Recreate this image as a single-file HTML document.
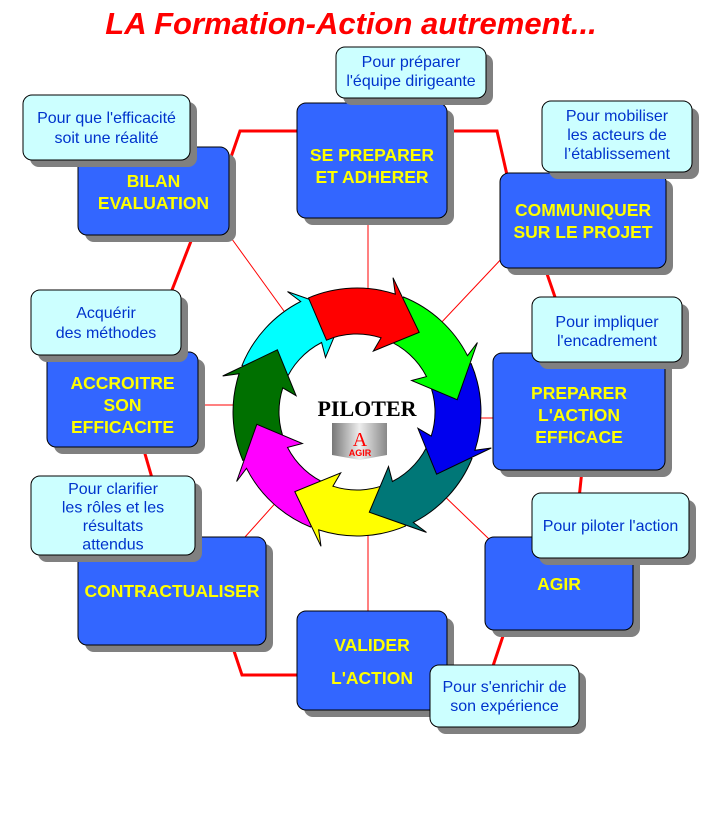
<!DOCTYPE html>
<html><head><meta charset="utf-8"><style>
body{margin:0;background:#fff;}
svg{display:block}
.b{font-family:"Liberation Sans",sans-serif;font-weight:bold;fill:#ffff00;font-size:17.5px;text-anchor:middle}
.c{font-family:"Liberation Sans",sans-serif;fill:#0033cc;font-size:16px;text-anchor:middle}
</style></head><body>
<svg id="s" width="705" height="815" viewBox="0 0 705 815" xmlns="http://www.w3.org/2000/svg">
<rect width="705" height="815" fill="#fff"/>
<text x="351" y="34" font-family="Liberation Sans,sans-serif" font-size="31" font-weight="bold" font-style="italic" fill="#ff0000" text-anchor="middle">LA Formation-Action autrement...</text>
<g stroke="#ff0000" stroke-width="1">
<line x1="368" y1="412" x2="368" y2="218"/><line x1="368" y1="412" x2="368" y2="611"/>
<line x1="357" y1="405" x2="198" y2="405"/><line x1="357" y1="418" x2="493" y2="418"/>
<line x1="357" y1="412" x2="229" y2="235"/><line x1="357" y1="412" x2="505" y2="255"/>
<line x1="357" y1="412" x2="245" y2="537"/><line x1="357" y1="412" x2="490" y2="540"/>
</g>
<circle cx="357" cy="412" r="124" fill="#fff"/>
<g stroke="#ff0000" stroke-width="3" fill="none">
<polyline points="230,160 240,131 497,131 507,175"/>
<polyline points="193,236 172,290"/>
<polyline points="143,447 152,478"/>
<polyline points="232,645 242,675 300,675"/>
<polyline points="445,675 490,675 505,630"/>
<polyline points="575,537 582,470"/>
<polyline points="555,297 545,268"/>
</g>
<g id="arrows" stroke="#000" stroke-width="1"></g>
<text x="367" y="416" font-family="Liberation Serif,serif" font-size="22" font-weight="bold" fill="#000" text-anchor="middle">PILOTER</text>
<defs><linearGradient id="g" x1="0" x2="1"><stop offset="0" stop-color="#777"/><stop offset=".5" stop-color="#eee"/><stop offset="1" stop-color="#888"/></linearGradient></defs>
<path d="M332,423 L387,423 L387,455 L360,460 L332,455Z" fill="url(#g)"/>
<text x="360" y="446" font-family="Liberation Serif,serif" font-size="20" fill="#ff0000" text-anchor="middle">A</text>
<text x="360" y="456" font-family="Liberation Sans,sans-serif" font-size="9" font-weight="bold" fill="#ff0000" text-anchor="middle">AGIR</text>
<g id="boxes"></g>
</svg>
<script>
var cx=357,cy=412,ri=78,ro=124;
function P(r,a){a=a*Math.PI/180;return (cx+r*Math.cos(a)).toFixed(1)+","+(cy+r*Math.sin(a)).toFixed(1);}
var cols=["#ff0000","#00ff00","#0000ee","#007777","#ffff00","#ff00ff","#007000","#00ffff"];
var h="";
var order=[7,6,5,4,3,2,1,0];
for(var j=0;j<8;j++){
 var k=order[j];
 var tip=-52+45*k, s=tip-61, e=tip-20;
 var d="M"+P(ro,s)+" A"+ro+","+ro+" 0 0 1 "+P(ro,e)+" L"+P(ro+15,e-3)+" L"+P((ri+ro)/2,tip)+" L"+P(ri-15,e-3)+" L"+P(ri,e)+" A"+ri+","+ri+" 0 0 0 "+P(ri,s)+"Z";
 h+='<path d="'+d+'" fill="'+cols[k]+'"/>';
}
document.getElementById("arrows").innerHTML=h;
function box(x,y,w,hh,lines,cls,fill,ly,lh){
 var r='<rect x="'+(x+7)+'" y="'+(y+7)+'" width="'+w+'" height="'+hh+'" rx="9" fill="#808080"/>'+
 '<rect x="'+x+'" y="'+y+'" width="'+w+'" height="'+hh+'" rx="9" fill="'+fill+'" stroke="#000" stroke-width="1"/>';
 for(var i=0;i<lines.length;i++) r+='<text class="'+cls+'" x="'+(x+w/2)+'" y="'+(ly+i*lh)+'">'+lines[i]+'</text>';
 return r;
}
var B="#3366ff",C="#ccffff",o="";
o+=box(297,103,150,115,["SE PREPARER","ET ADHERER"],"b",B,161,22);
o+=box(78,147,151,88,["BILAN","EVALUATION"],"b",B,187,22);
o+=box(500,173,166,95,["COMMUNIQUER","SUR LE PROJET"],"b",B,216,22);
o+=box(47,352,151,95,["ACCROITRE","SON","EFFICACITE"],"b",B,389,22);
o+=box(493,353,172,117,["PREPARER","L'ACTION","EFFICACE"],"b",B,399,22);
o+=box(78,537,188,108,["CONTRACTUALISER"],"b",B,597,22);
o+=box(485,537,148,93,["AGIR"],"b",B,590,22);
o+=box(297,611,150,99,["VALIDER","L'ACTION"],"b",B,651,33);
o+=box(336,47,150,51,["Pour préparer","l'équipe dirigeante"],"c",C,67,19);
o+=box(23,95,167,65,["Pour que l'efficacité","soit une réalité"],"c",C,123,20);
o+=box(542,101,150,71,["Pour mobiliser","les acteurs de","l’établissement"],"c",C,121,19);
o+=box(31,290,150,65,["Acquérir","des méthodes"],"c",C,318,20);
o+=box(532,297,150,65,["Pour impliquer","l'encadrement"],"c",C,327,19);
o+=box(31,476,164,79,["Pour clarifier","les rôles et les","résultats","attendus"],"c",C,494,18.5);
o+=box(532,493,157,65,["Pour piloter l'action"],"c",C,531,19);
o+=box(430,665,149,62,["Pour s'enrichir de","son expérience"],"c",C,692,19);
document.getElementById("boxes").innerHTML=o;
</script>
</body></html>
